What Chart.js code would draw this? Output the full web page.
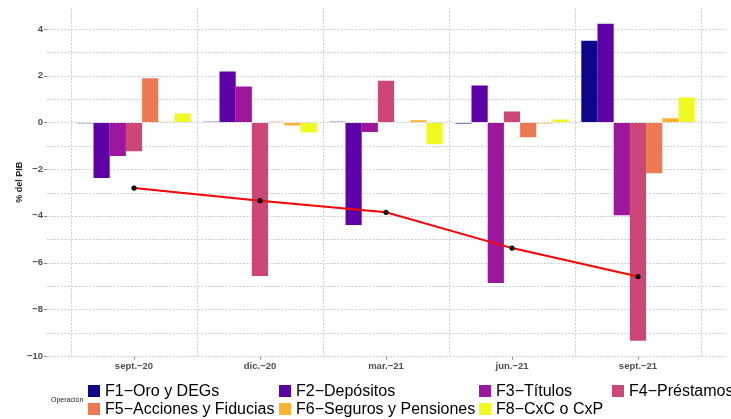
<!DOCTYPE html>
<html>
<head>
<meta charset="utf-8">
<script src="https://cdn.jsdelivr.net/npm/chart.js@4/dist/chart.umd.min.js"></script>
<style>
  html, body { margin:0; padding:0; background:#fff; }
  body { width:731px; height:419px; overflow:hidden; position:relative; font-family:"Liberation Sans", Arial, sans-serif; }
  #wrap { position:absolute; left:0; top:0; width:731px; height:419px; }
  #legTitle { position:absolute; left:51px; top:395px; font-size:7px; line-height:10px; color:#222; white-space:nowrap; }
  #legend { position:absolute; left:88px; top:382px; display:grid; grid-template-columns:191px 200px 133px 200px; grid-auto-rows:18px; white-space:nowrap; }
  .item { display:flex; align-items:center; font-size:16px; line-height:18px; color:#000; }
  .sw { width:12px; height:12px; margin-right:5px; flex:none; }
</style>
</head>
<body>
<div id="wrap"><canvas id="c" width="731" height="419"></canvas></div>
<div id="legTitle">Operación</div>
<div id="legend"></div>
<script>
// ---- data ----
const categories = ['sept.\u221220', 'dic.\u221220', 'mar.\u221221', 'jun.\u221221', 'sept.\u221221'];
const seriesNames = ['F1\u2212Oro y DEGs', 'F2\u2212Depósitos', 'F3\u2212Títulos', 'F4\u2212Préstamos',
                     'F5\u2212Acciones y Fiducias', 'F6\u2212Seguros y Pensiones', 'F8\u2212CxC o CxP'];
const f1 = [-0.03, 0.03, 0.03, -0.04, 3.50];
const f2 = [-2.38, 2.18, -4.39, 1.58, 4.23];
const f3 = [-1.44, 1.54, -0.41, -6.87, -3.97];
const f4 = [-1.23, -6.57, 1.79, 0.47, -9.35];
const f5 = [1.89, 0.03, 0.02, -0.63, -2.18];
const f6 = [0.03, -0.13, 0.09, -0.04, 0.18];
const f8 = [0.38, -0.43, -0.93, 0.13, 1.07];
const total = [-2.81, -3.35, -3.85, -5.38, -6.60];
const yTickValues = [-10, -9, -8, -7, -6, -5, -4, -3, -2, -1, 0, 1, 2, 3, 4];

// ---- styles ----
const colors = ['#0d0887', '#5d01a6', '#9c179e', '#cc4678', '#ed7953', '#fdb32f', '#f0f921'];
const GRID = '#cdcdcd';
const TICKTXT = '#4d4d4d';
const FONT = '"Liberation Sans", Arial, sans-serif';
const EXT = 24;

const seriesValues = [f1, f2, f3, f4, f5, f6, f8];

const datasets = seriesValues.map((vals, i) => ({
  type: 'bar',
  label: seriesNames[i],
  data: vals,
  backgroundColor: colors[i],
  borderWidth: 0,
  categoryPercentage: 0.9,
  barPercentage: 1.0,
  order: 1
}));
datasets.push({
  type: 'line',
  label: 'Total',
  data: total,
  borderColor: '#ff0000',
  borderWidth: 2,
  pointRadius: 2.6,
  pointBackgroundColor: '#000',
  pointBorderWidth: 0,
  pointHoverRadius: 2.6,
  tension: 0,
  order: 0
});

const panelPlugin = {
  id: 'panelGrid',
  beforeDatasetsDraw(chart) {
    const { ctx, chartArea: a, scales: { x, y } } = chart;
    ctx.save();
    ctx.lineWidth = 1;
    ctx.strokeStyle = GRID;
    ctx.setLineDash([2, 1.5]);
    const left = a.left - EXT, right = a.right + EXT;
    yTickValues.forEach(v => {
      const py = Math.round(y.getPixelForValue(v)) + 0.5;
      ctx.beginPath(); ctx.moveTo(left, py); ctx.lineTo(right, py); ctx.stroke();
    });
    ctx.setLineDash([]);
    ctx.strokeStyle = '#8a8a8a';
    yTickValues.forEach(v => {
      if (v % 2 !== 0) return;
      const py = Math.round(y.getPixelForValue(v)) + 0.5;
      ctx.beginPath(); ctx.moveTo(left - 3, py); ctx.lineTo(left, py); ctx.stroke();
    });
    categories.forEach((c, i) => {
      const px = Math.round(x.getPixelForValue(i)) + 0.5;
      ctx.beginPath(); ctx.moveTo(px, a.bottom); ctx.lineTo(px, a.bottom + 3); ctx.stroke();
    });
    ctx.restore();
  }
};

new Chart(document.getElementById('c'), {
  type: 'bar',
  data: { labels: categories, datasets },
  plugins: [panelPlugin],
  options: {
    responsive: false,
    animation: false,
    devicePixelRatio: 1,
    layout: { padding: { top: 8, right: 30, bottom: 0, left: 0 } },
    plugins: { legend: { display: false }, tooltip: { enabled: false } },
    scales: {
      x: {
        offset: true,
        grid: { display: true, offset: true, color: GRID, lineWidth: 1, drawTicks: false },
        border: { display: false, dash: [2, 1.5] },
        ticks: { color: TICKTXT, font: { family: FONT, size: 9.5, weight: 'bold' }, padding: 4, maxRotation: 0 },
        afterFit(scale) { scale.height = 62.3; scale.paddingLeft = 0; scale.paddingRight = 0; }
      },
      y: {
        min: -10.03,
        max: 4.9,
        afterBuildTicks(scale) { scale.ticks = yTickValues.map(v => ({ value: v })); },
        grid: { display: true, drawOnChartArea: false, drawTicks: false, color: 'rgba(0,0,0,0)' },
        border: { display: false },
        ticks: {
          color: TICKTXT,
          font: { family: FONT, size: 9.5, weight: 'bold' },
          padding: 28,
          autoSkip: false,
          callback: (v) => (v % 2 === 0 ? String(v).replace('-', '\u2212') : '')
        },
        title: {
          display: true,
          text: '% del PIB',
          color: '#222',
          font: { family: FONT, size: 9, weight: 'bold' },
          padding: { top: 14, bottom: 0 }
        },
        afterFit(scale) { scale.width = 71; scale.paddingTop = 0; scale.paddingBottom = 0; }
      }
    }
  }
});

// HTML legend built from series arrays
const leg = document.getElementById('legend');
seriesNames.forEach((name, i) => {
  const it = document.createElement('div');
  it.className = 'item';
  const sw = document.createElement('span');
  sw.className = 'sw';
  sw.style.background = colors[i];
  it.appendChild(sw);
  it.appendChild(document.createTextNode(name));
  leg.appendChild(it);
});
</script>
</body>
</html>
